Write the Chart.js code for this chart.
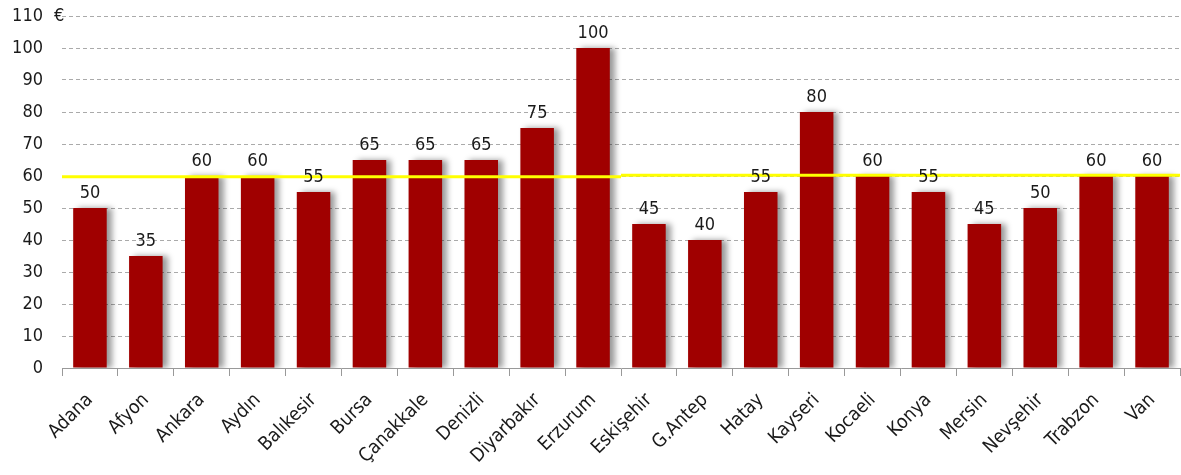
<!DOCTYPE html>
<html>
<head>
<meta charset="utf-8">
<script src="https://cdn.jsdelivr.net/npm/chart.js@4/dist/chart.umd.min.js"></script>
<style>
  html, body { margin: 0; padding: 0; background: #fff; }
  #wrap { width: 1181px; height: 475px; }
</style>
</head>
<body>
<div id="wrap"><canvas id="chart"></canvas></div>
<script>
const cities = ['Adana', 'Afyon', 'Ankara', 'Aydın', 'Balıkesir', 'Bursa', 'Çanakkale', 'Denizli', 'Diyarbakır', 'Erzurum',
    'Eskişehir', 'G.Antep', 'Hatay', 'Kayseri', 'Kocaeli', 'Konya', 'Mersin', 'Nevşehir', 'Trabzon', 'Van'];
const prices = [50, 35, 60, 60, 55, 65, 65, 65, 75, 100, 45, 40, 55, 80, 60, 55, 45, 50, 60, 60];
// yellow average line, drawn in two pieces (first 10 cities, last 10)
const averageLevels = [59.8, 60.2];
const averageSplit = 10;
const yTicks = [0, 10, 20, 30, 40, 50, 60, 70, 80, 90, 100, 110];
const unitLabel = '€';

const FONT = "'DejaVu Sans Condensed', 'DejaVu Sans', sans-serif";
const TEXT = '#1a1a1a';

const barShadow = {
    id: 'barShadow',
    beforeDatasetDraw(chart, args) {
        if (args.index !== 0) return;
        const ctx = chart.ctx;
        ctx.save();
        ctx.shadowColor = 'rgba(0, 0, 0, 0.4)';
        ctx.shadowOffsetX = 5;
        ctx.shadowOffsetY = 0;
        ctx.shadowBlur = 6;
    },
    afterDatasetDraw(chart, args) {
        if (args.index !== 0) return;
        chart.ctx.restore();
    }
};

const extras = {
    id: 'extras',
    afterDatasetsDraw(chart) {
        const ctx = chart.ctx;
        const x = chart.scales.x, y = chart.scales.y;
        const half = (x.getPixelForValue(1) - x.getPixelForValue(0)) / 2;

        // average line
        ctx.save();
        ctx.strokeStyle = '#ffff00';
        ctx.lineWidth = 3;
        const pieces = [[0, averageSplit - 1], [averageSplit, cities.length - 1]];
        pieces.forEach((p, i) => {
            const yy = y.getPixelForValue(averageLevels[i]);
            ctx.beginPath();
            ctx.moveTo(x.getPixelForValue(p[0]) - half, yy);
            ctx.lineTo(x.getPixelForValue(p[1]) + half, yy);
            ctx.stroke();
        });
        ctx.restore();

        // value labels
        ctx.save();
        ctx.font = '18px ' + FONT;
        ctx.fillStyle = TEXT;
        ctx.textAlign = 'center';
        ctx.textBaseline = 'bottom';
        chart.getDatasetMeta(0).data.forEach((bar, i) => {
            ctx.fillText(String(prices[i]), bar.x, bar.y - 6);
        });
        // unit
        ctx.textAlign = 'left';
        ctx.textBaseline = 'middle';
        ctx.fillText(unitLabel, chart.chartArea.left - 8, y.getPixelForValue(110));
        ctx.restore();
    }
};

new Chart(document.getElementById('chart'), {
    type: 'bar',
    data: {
        labels: cities,
        datasets: [{
            data: prices,
            backgroundColor: '#a00000',
            borderWidth: 0,
            categoryPercentage: 1.0,
            barPercentage: 0.6
        }]
    },
    options: {
        responsive: true,
        maintainAspectRatio: false,
        animation: false,
        layout: { padding: { top: 16, right: 1, left: 0, bottom: 0 } },
        plugins: { legend: { display: false }, tooltip: { enabled: false } },
        scales: {
            x: {
                grid: { drawOnChartArea: false, offset: true, tickLength: 8, color: '#999' },
                border: { display: true, color: '#999' },
                ticks: {
                    color: TEXT, font: { family: FONT, size: 19 },
                    maxRotation: 45, minRotation: 45, autoSkip: false, padding: 13
                },
                afterFit(scale) {
                    scale.height = 107;
                    scale.paddingLeft = 0; scale.paddingRight = 0;
                }
            },
            y: {
                min: 0, max: 110,
                afterBuildTicks(scale) { scale.ticks = yTicks.map(v => ({ value: v })); },
                grid: { color: '#aaa', drawTicks: false },
                border: { display: false, dash: [4, 3] },
                ticks: { color: TEXT, font: { family: FONT, size: 18 }, padding: 19 },
                afterFit(scale) {
                    scale.width = 62;
                    scale.paddingTop = 0; scale.paddingBottom = 0;
                }
            }
        }
    },
    plugins: [barShadow, extras]
});
</script>
</body>
</html>
